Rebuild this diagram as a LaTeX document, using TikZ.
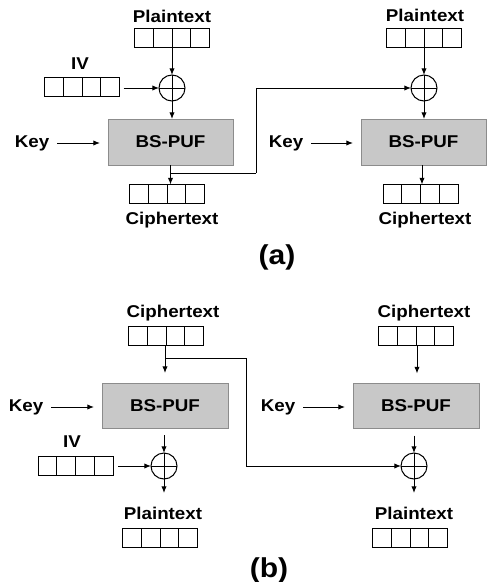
\documentclass[tikz,border=0pt]{standalone}
\usepackage{fontspec}
\setmainfont{Liberation Sans}[FakeStretch=1.1]
\usetikzlibrary{arrows.meta,calc}
\definecolor{pufFill}{HTML}{C8C8C8}
\definecolor{pufEdge}{HTML}{8C8C8C}
\tikzset{
  lbl/.style={font=\fontsize{12.8}{15}\selectfont\bfseries, inner sep=0pt},
  subcap/.style={font=\fontsize{20.5}{24}\selectfont\bfseries, inner sep=0pt},
  reg/.style={draw, line width=0.75pt, minimum width=56.25pt, minimum height=14.25pt,
    inner sep=0pt, outer sep=0pt,
    path picture={\foreach \k in {1,2,3}{%
      \draw[line width=0.75pt]
        ($(path picture bounding box.south west)!\k/4!(path picture bounding box.south east)$) --
        ($(path picture bounding box.north west)!\k/4!(path picture bounding box.north east)$);}}},
  xorgate/.style={circle, draw, line width=0.75pt, minimum size=19.5pt, inner sep=0pt, outer sep=0pt,
    path picture={\draw[line width=0.75pt]
      (path picture bounding box.north) -- (path picture bounding box.south)
      (path picture bounding box.west) -- (path picture bounding box.east);}},
  puf/.style={draw=pufEdge, fill=pufFill, line width=0.75pt, minimum width=93.75pt,
    minimum height=34.5pt, inner sep=0pt, outer sep=0pt,
    font=\fontsize{12.8}{15}\selectfont\bfseries},
  wire/.style={line width=0.75pt},
  arr/.style={wire, -{Latex[length=5pt,width=4pt]}},
  keyarr/.style={arr, shorten <=6pt, shorten >=6pt}
}
\begin{document}
\begin{tikzpicture}[x=0.75pt,y=-0.75pt]
\useasboundingbox (0,0) rectangle (487,582);

% ---------------- (a) encryption chain ----------------
\node[lbl] (ptA1) at (172,16) {Plaintext};
\node[reg] (rptA1) at (172,37.5) {};
\node[xorgate] (xA1) at (172,88) {};
\node[lbl] (ivA) at (80,64) {IV};
\node[reg] (rivA) at (82,87) {};
\node[puf] (pA1) at (170.5,142) {BS-PUF};
\node[lbl] (kA1) at (32,143) {Key};
\node[reg] (rctA1) at (167,194) {};
\node[lbl] (ctA1) at (172,220) {Ciphertext};

\node[lbl] (ptA2) at (425,15.5) {Plaintext};
\node[reg] (rptA2) at (424,37.5) {};
\node[xorgate] (xA2) at (424,88) {};
\node[puf] (pA2) at (423.5,142) {BS-PUF};
\node[lbl] (kA2) at (286,143) {Key};
\node[reg] (rctA2) at (420.5,194) {};
\node[lbl] (ctA2) at (425,220) {Ciphertext};

\node[subcap] (capA) at (277,257.5) {(a)};

\draw[arr] (rptA1.south -| xA1) -- (xA1.north);
\draw[arr, shorten <=3pt] (rivA.east |- xA1) -- (xA1.west);
\draw[arr] (xA1.south) -- (xA1.south |- pA1.north);
\draw[keyarr] (kA1.east) -- (kA1.east -| pA1.west);
\draw[arr] (pA1.south) -- (pA1.south |- rctA1.north);

\coordinate (fbA) at (256,173);
\draw[wire] (pA1.south |- fbA) -- (fbA);
\draw[arr] (fbA) |- (xA2.west);

\draw[arr] (rptA2.south) -- (xA2.north);
\draw[arr] (xA2.south) -- (xA2.south |- pA2.north);
\draw[keyarr] (kA2.east) -- (kA2.east -| pA2.west);
\draw[arr] (pA2.south -| 422,0) -- (rctA2.north -| 422,0);

% ---------------- (b) decryption chain ----------------
\node[lbl] (ctB1) at (173,313) {Ciphertext};
\node[reg] (rctB1) at (166,336) {};
\node[puf, minimum width=94.5pt, minimum height=33.75pt] (pB1) at (165,405.5) {BS-PUF};
\node[lbl] (kB1) at (26,407) {Key};
\node[xorgate] (xB1) at (164,466) {};
\node[lbl] (ivB) at (72,442) {IV};
\node[reg] (rivB) at (75.5,466) {};
\node[lbl] (ptB1) at (163,513) {Plaintext};
\node[reg] (rptB1) at (160,537.5) {};

\node[lbl] (ctB2) at (424,313) {Ciphertext};
\node[reg] (rctB2) at (416,335.5) {};
\node[puf, minimum width=94.5pt, minimum height=33.75pt] (pB2) at (416,406) {BS-PUF};
\node[lbl] (kB2) at (278,407) {Key};
\node[xorgate] (xB2) at (414,466) {};
\node[lbl] (ptB2) at (414,513) {Plaintext};
\node[reg] (rptB2) at (410,538) {};

\node[subcap] (capB) at (269,570) {(b)};

\draw[arr, shorten >=7.5pt] (rctB1.south -| 165,0) -- (pB1.north -| 165,0);
\coordinate (fbB) at (246,358);
\draw[wire] (fbB -| 165,0) -- (fbB);
\draw[arr] (fbB) |- (xB2.west);
\draw[keyarr] (kB1.east) -- (kB1.east -| pB1.west);
\draw[arr, shorten <=5.25pt] (pB1.south -| xB1) -- (xB1.north);
\draw[arr, shorten <=3.75pt] (rivB.east) -- (xB1.west);
\draw[arr] (xB1.south) -- ++(0,14);

\draw[arr, shorten >=7.5pt] (rctB2.south -| 417,0) -- (pB2.north -| 417,0);
\draw[keyarr] (kB2.east) -- (kB2.east -| pB2.west);
\draw[arr, shorten <=5.25pt] (pB2.south -| xB2) -- (xB2.north);
\draw[arr] (xB2.south) -- ++(0,14);
\end{tikzpicture}
\end{document}
